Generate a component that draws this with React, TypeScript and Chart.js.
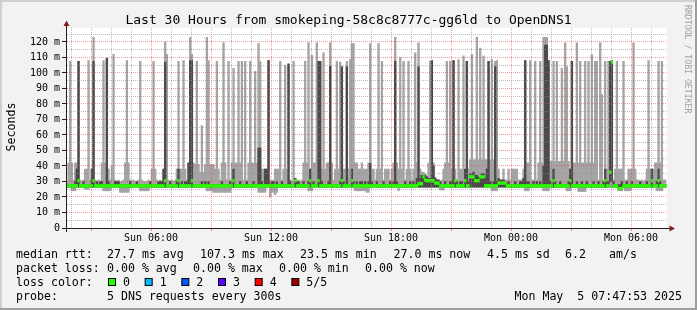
import React, { useEffect, useRef } from 'react';
import { Chart, registerables } from 'chart.js';

Chart.register(...registerables);

// ---- time axis (hours since Sun 00:00) ----
const graphStartHour = 1 + 47 / 60 + 53 / 3600; // Sun 01:47:53
const graphEndHour = graphStartHour + 30; // Mon 07:47:53
const firstStepStartHour = 1.75; // RRD 300 s step grid
const stepHours = 5 / 60;

// ---- smoke data, one value per 300 s step (ms), 12 per row = 1 hour ----
// p5: highest of the 5 pings
const outerHigh = [
  30, 42, 107.5, 42, 31, 42, 42, 107.5, 31, 30, 31, 38,
  38, 108, 31, 38, 123, 31, 30, 31, 30, 42, 108, 42,
  109.5, 38, 31, 40, 112, 31, 30, 31, 30, 30, 31, 42,
  108, 42, 31, 30, 31, 30, 30, 31, 107.5, 31, 30, 30,
  30, 31, 30, 38, 107.5, 38, 31, 30, 31, 30, 38, 120,
  112, 31, 30, 31, 30, 31, 38, 107.5, 38, 38, 108, 38,
  31, 42, 123, 112, 42, 41, 107.5, 41, 36, 66, 36, 41,
  123, 108, 41, 41, 41, 38, 107.5, 38, 31, 42, 119.5, 42,
  31, 107.5, 31, 42, 103, 42, 42, 107.5, 42, 107.5, 31, 107.5,
  31, 42, 107.5, 42, 42, 101, 42, 119, 107.5, 38, 38, 38,
  38, 108, 31, 30, 31, 38, 38, 38, 107.5, 31, 38, 105,
  38, 105.8, 31, 30, 107.5, 32, 30, 31, 30, 31, 42, 107.5,
  42, 119.5, 38, 111.4, 42, 42, 119.5, 107.5, 107.5, 38, 113, 38,
  42, 42, 119.5, 42, 31, 38, 107.5, 38, 107, 104, 38, 38,
  107.5, 38, 108.6, 119, 119, 42, 42, 38, 38, 42, 38, 38,
  38, 42, 119, 38, 38, 31, 38, 119, 38, 107.5, 31, 38,
  38, 38, 31, 38, 42, 123, 42, 38, 110, 38, 107.5, 31,
  38, 107.5, 38, 31, 38, 113, 42, 119.5, 38, 36, 36, 35,
  33, 42, 107.5, 108, 42, 33, 31, 31, 30, 31, 38, 42,
  107.5, 42, 107.5, 38, 108, 38, 31, 108.6, 38, 38, 111, 38,
  107.5, 38, 44, 112, 44, 44, 123, 44, 116, 44, 111, 44,
  44, 107.5, 44, 108.6, 44, 107.5, 108, 38, 31, 31, 38, 31,
  31, 38, 31, 38, 38, 38, 38, 31, 31, 31, 38, 108,
  42, 42, 108, 31, 31, 107.5, 31, 42, 107.5, 42, 123, 123,
  123, 108, 43, 43, 107.5, 43, 107.5, 43, 43, 103, 43, 119.5,
  104, 43, 38, 107.5, 42, 42, 119.5, 42, 107.5, 42, 42, 107.5,
  42, 107.5, 42, 111.8, 42, 107.5, 107.5, 31, 119.5, 86, 31, 107.5,
  38, 107.5, 107.5, 108, 31, 38, 107.5, 38, 38, 38, 107.5, 31,
  31, 38, 38, 38, 119.5, 38, 31, 31, 30, 31, 30, 31,
  38, 108, 38, 38, 38, 42, 42, 107.5, 42, 107.5, 31, 31,
];

// p4: second highest ping
const innerHigh = [
  28, 28, 28, 28, 28, 30, 38, 107.5, 28, 28, 30, 28,
  28, 28, 28, 38, 107.5, 28, 30, 28, 30, 30, 28, 28,
  109.5, 30, 28, 28, 28, 30, 30, 30, 28, 28, 28, 28,
  28, 28, 30, 28, 28, 28, 30, 28, 28, 28, 28, 28,
  28, 28, 30, 28, 28, 28, 28, 30, 30, 30, 38, 107,
  28, 28, 30, 28, 28, 28, 30, 38, 28, 30, 28, 30,
  30, 42, 108, 108, 28, 28, 28, 28, 28, 30, 28, 30,
  28, 30, 28, 28, 28, 28, 28, 28, 28, 30, 28, 28,
  28, 28, 30, 28, 38, 28, 28, 28, 30, 28, 28, 28,
  30, 28, 28, 28, 30, 28, 28, 51.6, 51.6, 30, 28, 38,
  38, 108, 28, 30, 30, 28, 30, 28, 28, 30, 28, 28,
  28, 105.8, 30, 28, 28, 32, 30, 30, 28, 28, 30, 28,
  28, 30, 38, 28, 30, 28, 28, 107.5, 107.5, 30, 28, 28,
  28, 30, 104.3, 28, 28, 28, 28, 28, 30, 104, 30, 28,
  104, 28, 28, 38, 30, 28, 30, 28, 30, 30, 28, 30,
  28, 30, 41.7, 30, 28, 28, 30, 28, 28, 28, 30, 28,
  28, 28, 30, 28, 30, 107.5, 30, 28, 28, 28, 28, 30,
  28, 28, 30, 28, 30, 28, 32, 104, 32, 34, 34, 34,
  33, 32, 32, 108, 40, 32, 31, 31, 30, 28, 28, 30,
  28, 28, 30, 30, 108, 31, 30, 28, 30, 30, 28, 38,
  107.5, 30, 35, 35, 36, 34, 34, 33, 33, 35, 35, 32,
  38, 107.5, 30, 28, 30, 104, 30, 32, 31, 31, 31, 30,
  28, 30, 28, 28, 28, 30, 28, 28, 30, 30, 32, 108,
  30, 30, 28, 28, 30, 28, 30, 28, 30, 28, 40, 118,
  118, 108, 30, 28, 38, 30, 28, 28, 30, 28, 28, 28,
  28, 30, 38, 107.5, 28, 28, 30, 28, 28, 30, 28, 28,
  30, 28, 28, 28, 30, 28, 28, 30, 28, 28, 30, 38,
  30, 30, 107.5, 108, 30, 28, 28, 28, 28, 30, 28, 28,
  30, 28, 28, 30, 28, 28, 28, 28, 30, 28, 28, 28,
  30, 28, 28, 38, 28, 28, 30, 38, 30, 28, 28, 28,
];

// p3: median ping
const medianRtt = [
  27.2, 27.2, 27.2, 27.2, 27.2, 27.2, 27.2, 30.5, 27.2, 27.2, 27.2, 27.2,
  27.2, 27.2, 27.2, 27.2, 30.5, 27.2, 27.2, 27.2, 27.2, 27.2, 27.2, 27.2,
  27.2, 27.2, 27.2, 27.2, 27.2, 27.2, 27.2, 27.2, 27.2, 27.2, 27.2, 27.2,
  27.2, 27.2, 27.2, 27.2, 27.2, 27.2, 27.2, 27.2, 27.2, 27.2, 27.2, 27.2,
  27.2, 27.2, 27.2, 27.2, 27.2, 27.2, 27.2, 27.2, 27.2, 27.2, 27.2, 30.5,
  27.2, 27.2, 27.2, 27.2, 27.2, 27.2, 27.2, 30.5, 27.2, 27.2, 27.2, 27.2,
  27.2, 27.2, 27.2, 30.5, 27.2, 27.2, 27.2, 27.2, 27.2, 27.2, 27.2, 27.2,
  27.2, 27.2, 27.2, 27.2, 27.2, 27.2, 27.2, 27.2, 27.2, 27.2, 27.2, 27.2,
  27.2, 27.2, 27.2, 27.2, 30.5, 27.2, 27.2, 27.2, 27.2, 27.2, 27.2, 27.2,
  27.2, 27.2, 27.2, 27.2, 27.2, 27.2, 27.2, 27.2, 27.2, 27.2, 27.2, 27.2,
  27.2, 27.2, 27.2, 27.2, 27.2, 27.2, 27.2, 27.2, 27.2, 27.2, 27.2, 27.2,
  27.2, 27.2, 27.2, 27.2, 27.2, 30.5, 27.2, 27.2, 27.2, 27.2, 27.2, 27.2,
  27.2, 27.2, 30.5, 27.2, 27.2, 27.2, 27.2, 30.5, 27.2, 27.2, 27.2, 27.2,
  27.2, 27.2, 27.2, 27.2, 27.2, 27.2, 27.2, 27.2, 27.2, 30.5, 27.2, 27.2,
  27.2, 27.2, 27.2, 30.5, 27.2, 27.2, 27.2, 27.2, 27.2, 27.2, 27.2, 27.2,
  27.2, 27.2, 27.2, 27.2, 27.2, 27.2, 27.2, 27.2, 27.2, 27.2, 27.2, 27.2,
  27.2, 27.2, 27.2, 27.2, 27.2, 27.2, 27.2, 27.2, 27.2, 27.2, 27.2, 27.2,
  27.2, 27.2, 27.2, 27.2, 27.2, 27.2, 27.2, 28.5, 28.5, 28.5, 33, 31,
  30.5, 30.5, 30.5, 30.5, 30.5, 29, 29, 29, 27.2, 27.2, 27.2, 27.2,
  27.2, 27.2, 27.2, 27.2, 27.2, 30.5, 27.2, 27.2, 27.2, 27.2, 27.2, 30.5,
  27.2, 27.2, 33, 33, 33, 30.5, 30.5, 30.5, 33, 33, 33, 27.2,
  27.2, 27.2, 27.2, 27.2, 27.2, 27.2, 27.2, 29, 29, 29, 29, 29,
  27.2, 27.2, 27.2, 27.2, 27.2, 27.2, 27.2, 27.2, 27.2, 27.2, 27.2, 27.2,
  27.2, 27.2, 27.2, 27.2, 27.2, 27.2, 27.2, 27.2, 27.2, 27.2, 27.2, 27.2,
  27.2, 27.2, 27.2, 27.2, 30.5, 27.2, 27.2, 27.2, 27.2, 27.2, 27.2, 27.2,
  27.2, 27.2, 30.5, 27.2, 27.2, 27.2, 27.2, 27.2, 27.2, 27.2, 27.2, 27.2,
  27.2, 27.2, 27.2, 27.2, 27.2, 27.2, 27.2, 27.2, 27.2, 27.2, 27.2, 30.5,
  27.2, 27.2, 36, 107, 27.2, 27.2, 27.2, 25.5, 25.5, 25.5, 27.2, 27.2,
  27.2, 27.2, 27.2, 27.2, 27.2, 27.2, 27.2, 27.2, 27.2, 27.2, 27.2, 27.2,
  27.2, 27.2, 27.2, 30.5, 27.2, 27.2, 27.2, 30.5, 27.2, 27.2, 27.2, 27.2,
];

// p2: second lowest ping
const innerLow = [
  26.5, 26.5, 26.5, 26.5, 26.5, 26.5, 26.5, 26.5, 26.5, 26.5, 26.5, 26.5,
  26.5, 26.5, 26.5, 26.5, 26.5, 26.5, 26.5, 26.5, 26.5, 26.5, 26.5, 26.5,
  26.5, 26.5, 26.5, 26.5, 26.5, 26.5, 26.5, 26.5, 26.5, 26.5, 26.5, 26.5,
  26.5, 26.5, 26.5, 26.5, 26.5, 26.5, 26.5, 26.5, 26.5, 26.5, 26.5, 26.5,
  26.5, 26.5, 26.5, 26.5, 26.5, 26.5, 26.5, 26.5, 26.5, 26.5, 26.5, 26.5,
  26.5, 26.5, 26.5, 26.5, 26.5, 26.5, 26.5, 26.5, 26.5, 26.5, 26.5, 26.5,
  26.5, 26.5, 26.5, 26.5, 26.5, 26.5, 26.5, 26.5, 26.5, 26.5, 26.5, 26.5,
  26.5, 26.5, 26.5, 26.5, 26.5, 26.5, 26.5, 26.5, 26.5, 26.5, 26.5, 26.5,
  26.5, 26.5, 26.5, 26.5, 26.5, 26.5, 26.5, 26.5, 26.5, 26.5, 26.5, 26.5,
  26.5, 26.5, 26.5, 26.5, 26.5, 26.5, 26.5, 26.5, 26.5, 26.5, 26.5, 26.5,
  26.5, 26.5, 26.5, 26.5, 26.5, 26.5, 26.5, 26.5, 26.5, 26.5, 26.5, 26.5,
  26.5, 26.5, 26.5, 26.5, 26.5, 26.5, 26.5, 26.5, 26.5, 26.5, 26.5, 26.5,
  26.5, 26.5, 26.5, 26.5, 26.5, 26.5, 26.5, 26.5, 26.5, 26.5, 26.5, 26.5,
  26.5, 26.5, 26.5, 26.5, 26.5, 26.5, 26.5, 26.5, 26.5, 26.5, 26.5, 26.5,
  26.5, 26.5, 26.5, 26.5, 26.5, 26.5, 26.5, 26.5, 26.5, 26.5, 26.5, 26.5,
  26.5, 26.5, 26.5, 26.5, 26.5, 26.5, 26.5, 26.5, 26.5, 26.5, 26.5, 26.5,
  26.5, 26.5, 26.5, 26.5, 26.5, 26.5, 26.5, 26.5, 26.5, 26.5, 26.5, 26.5,
  26.5, 26.5, 26.5, 26.5, 26.5, 26.5, 26.5, 26.5, 26.5, 26.5, 26.5, 26.5,
  26.5, 26.5, 26.5, 26.5, 26.5, 26.5, 26.5, 26.5, 26.5, 26.5, 26.5, 26.5,
  26.5, 26.5, 26.5, 26.5, 26.5, 26.5, 26.5, 26.5, 26.5, 26.5, 26.5, 26.5,
  26.5, 26.5, 26.5, 26.5, 26.5, 26.5, 26.5, 26.5, 26.5, 26.5, 26.5, 26.5,
  26.5, 26.5, 26.5, 26.5, 26.5, 26.5, 26.5, 26.5, 26.5, 26.5, 26.5, 26.5,
  26.5, 26.5, 26.5, 26.5, 26.5, 26.5, 26.5, 26.5, 26.5, 26.5, 26.5, 26.5,
  26.5, 26.5, 26.5, 26.5, 26.5, 26.5, 26.5, 26.5, 26.5, 26.5, 26.5, 26.5,
  26.5, 26.5, 26.5, 26.5, 26.5, 26.5, 26.5, 26.5, 26.5, 26.5, 26.5, 26.5,
  26.5, 26.5, 26.5, 26.5, 26.5, 26.5, 26.5, 26.5, 26.5, 26.5, 26.5, 26.5,
  26.5, 26.5, 26.5, 26.5, 26.5, 26.5, 26.5, 26.5, 26.5, 26.5, 26.5, 26.5,
  26.5, 26.5, 30, 30, 26.5, 26.5, 26.5, 25, 25, 25, 26.5, 26.5,
  26.5, 26.5, 26.5, 26.5, 26.5, 26.5, 26.5, 26.5, 26.5, 26.5, 26.5, 26.5,
  26.5, 26.5, 26.5, 26.5, 26.5, 26.5, 26.5, 26.5, 26.5, 26.5, 26.5, 26.5,
];

// p1: lowest ping
const outerLow = [
  26, 26, 26, 24, 24, 24, 26, 26, 26, 26, 26, 25,
  25, 25, 26, 26, 26, 26, 26, 26, 26, 26, 24, 24,
  24, 24, 24, 26, 26, 26, 26, 26, 23, 23, 23, 23,
  23, 23, 26, 26, 26, 26, 26, 26, 24, 24, 24, 24,
  24, 24, 26, 26, 26, 26, 26, 26, 26, 26, 26, 26,
  26, 26, 26, 26, 26, 26, 26, 26, 26, 26, 26, 26,
  26, 26, 26, 26, 26, 26, 26, 26, 26, 26, 26, 26,
  24, 24, 24, 24, 23, 23, 23, 23, 23, 23, 23, 23,
  23, 23, 23, 26, 26, 26, 26, 26, 26, 26, 26, 26,
  26, 26, 26, 26, 26, 26, 26, 23, 23, 23, 23, 23,
  26, 26, 20, 23, 23, 21.5, 23, 26, 26, 26, 26, 26,
  26, 26, 26, 26, 26, 26, 26, 26, 26, 26, 26, 26,
  26, 24, 24, 24, 26, 26, 26, 26, 26, 26, 26, 26,
  26, 26, 26, 26, 26, 26, 26, 26, 26, 26, 26, 26,
  26, 26, 26, 26, 26, 24, 24, 24, 24, 24, 24, 24,
  23, 23, 26, 26, 26, 26, 26, 26, 26, 26, 26, 26,
  26, 26, 26, 26, 26, 26, 26, 24, 26, 26, 26, 26,
  26, 26, 26, 26, 26, 26, 26, 26, 26, 26, 26, 26,
  26, 26, 26, 26, 26, 26, 26, 26, 24.5, 24.5, 24.5, 26,
  26, 26, 26, 26, 26, 26, 26, 26, 26, 26, 26, 26,
  26, 26, 26, 26, 26, 26, 26, 26, 26, 26, 26, 26,
  26, 26, 26, 24, 24, 24, 24, 26, 26, 26, 26, 26,
  26, 26, 26, 26, 26, 26, 26, 26, 26, 26, 26, 24,
  24, 24, 26, 26, 26, 26, 26, 26, 26, 26, 24, 24,
  24, 24, 26, 26, 26, 26, 26, 26, 26, 26, 26, 26,
  24, 24, 24, 26, 26, 26, 26, 23.5, 23.5, 23.5, 23.5, 23.5,
  26, 26, 26, 26, 26, 26, 26, 26, 26, 26, 26, 26,
  26, 26, 26, 26, 26, 26, 26, 24, 24, 24, 26, 24,
  24, 24, 24, 26, 26, 26, 26, 26, 26, 26, 26, 26,
  26, 26, 26, 26, 26, 26, 24, 24, 24, 24, 26, 26,
];

// ---- axis ticks ----
const xGridHours = [2, 3, 4, 5, 6, 7, 8, 9, 10, 11, 12, 13, 14, 15, 16, 17, 18, 19, 20, 21, 22, 23, 24, 25, 26, 27, 28, 29, 30, 31];
const xLabelHours = [6, 12, 18, 24, 30];
const xLabelTexts = ['Sun 06:00', 'Sun 12:00', 'Sun 18:00', 'Mon 00:00', 'Mon 06:00'];
const yGridValues = [0, 5, 10, 15, 20, 25, 30, 35, 40, 45, 50, 55, 60, 65, 70, 75, 80, 85, 90, 95, 100, 105, 110, 115, 120, 125];
const yMax = 129;

// ---- texts ----
const titleText = 'Last 30 Hours from smokeping-58c8c8777c-gg6ld to OpenDNS1';
const yAxisTitle = 'Seconds';
const rttLabel = 'median rtt:';
const rttItems = ['27.7 ms avg', '107.3 ms max', '23.5 ms min', '27.0 ms now', '4.5 ms sd', '6.2', 'am/s'];
const lossLabel = 'packet loss:';
const lossItems = ['0.00 % avg', '0.00 % max', '0.00 % min', '0.00 % now'];
const lossColorLabel = 'loss color:';
const lossColorNames = ['0', '1', '2', '3', '4', '5/5'];
const lossColorValues = ['#26ff00', '#00b8ff', '#0059ff', '#5e00ff', '#ff0000', '#a10000'];
const probeLabel = 'probe:';
const probeText = '5 DNS requests every 300s';
const dateText = 'Mon May  5 07:47:53 2025';
const watermark = 'RRDTOOL / TOBI OETIKER';

const MONO = '"DejaVu Sans Mono", monospace';
const GRID = 'rgba(143,143,143,0.6)';
const MGRID = 'rgba(222,79,79,0.55)';
const AXIS = '#1f1f1f';
const ARROW = '#801f1f';
const medianHalfWidth = 0.85;

const decorPlugin = {
  id: 'smokeDecor',
  beforeDraw(chart: any) {
    const { ctx, chartArea: a, width, height } = chart;
    ctx.save();
    ctx.fillStyle = '#f2f2f2';
    ctx.fillRect(0, 0, width, height);
    ctx.fillStyle = '#cfcfcf';
    ctx.fillRect(0, 0, width, 2);
    ctx.fillRect(0, 0, 2, height);
    ctx.fillStyle = '#9e9e9e';
    ctx.fillRect(0, height - 2, width, 2);
    ctx.fillRect(width - 2, 0, 2, height);
    ctx.fillStyle = '#ffffff';
    ctx.fillRect(a.left, a.top, a.right - a.left, a.bottom - a.top);
    ctx.restore();
  },
  afterDraw(chart: any) {
    const { ctx, chartArea: a } = chart;
    ctx.save();
    // axes
    ctx.strokeStyle = AXIS;
    ctx.lineWidth = 1;
    ctx.beginPath();
    ctx.moveTo(a.left - 5, a.bottom + 0.5);
    ctx.lineTo(a.right + 5, a.bottom + 0.5);
    ctx.moveTo(a.left - 0.5, a.bottom + 4);
    ctx.lineTo(a.left - 0.5, a.top - 4);
    ctx.stroke();
    // arrows
    ctx.fillStyle = ARROW;
    ctx.beginPath();
    ctx.moveTo(a.left - 0.5, a.top - 7.5);
    ctx.lineTo(a.left - 3.5, a.top - 2);
    ctx.lineTo(a.left + 2.5, a.top - 2);
    ctx.closePath();
    ctx.fill();
    ctx.beginPath();
    ctx.moveTo(a.right + 8, a.bottom + 0.5);
    ctx.lineTo(a.right + 2.5, a.bottom - 2.5);
    ctx.lineTo(a.right + 2.5, a.bottom + 3.5);
    ctx.closePath();
    ctx.fill();

    // title
    ctx.fillStyle = '#000';
    ctx.font = `13px ${MONO}`;
    ctx.textAlign = 'center';
    ctx.textBaseline = 'alphabetic';
    ctx.fillText(titleText, 348.5, 24);

    // y axis title
    ctx.save();
    ctx.translate(15, 127);
    ctx.rotate(-Math.PI / 2);
    ctx.font = `11.6px ${MONO}`;
    ctx.textAlign = 'center';
    ctx.fillText(yAxisTitle, 0, 0);
    ctx.restore();

    // watermark
    ctx.save();
    ctx.translate(684.5, 5);
    ctx.rotate(Math.PI / 2);
    ctx.font = `8.2px ${MONO}`;
    ctx.fillStyle = '#a0a0a0';
    ctx.textAlign = 'left';
    ctx.fillText(watermark, 0, 0);
    ctx.restore();

    // legend
    ctx.font = `11.6px ${MONO}`;
    ctx.textAlign = 'left';
    ctx.fillStyle = '#000';
    const rows = [257.5, 271.6, 285.7, 299.8];
    ctx.fillText(rttLabel, 16, rows[0]);
    const rttX = [107, 200, 300, 393.5, 487, 565, 609];
    rttItems.forEach((t, i) => ctx.fillText(t, rttX[i], rows[0]));
    ctx.fillText(lossLabel, 16, rows[1]);
    const lossX = [107, 193, 279, 365];
    lossItems.forEach((t, i) => ctx.fillText(t, lossX[i], rows[1]));
    ctx.fillText(lossColorLabel, 16, rows[2]);
    lossColorNames.forEach((t, i) => {
      const bx = 108.5 + i * 36.67;
      ctx.fillStyle = lossColorValues[i];
      ctx.fillRect(bx, 278.5, 7, 7);
      ctx.strokeStyle = '#000';
      ctx.strokeRect(bx, 278.5, 7, 7);
      ctx.fillStyle = '#000';
      ctx.fillText(t, bx + 14.5, rows[2]);
    });
    ctx.fillText(probeLabel, 16, rows[3]);
    ctx.fillText(probeText, 107, rows[3]);
    ctx.textAlign = 'right';
    ctx.fillText(dateText, 682, rows[3]);
    ctx.restore();
  },
};

export default function App() {
  const canvasRef = useRef<HTMLCanvasElement | null>(null);

  useEffect(() => {
    if (!canvasRef.current) return;
    const stepCenters = outerHigh.map((_, i) => firstStepStartHour + (i + 0.5) * stepHours);
    const band = (lo: number[], hi: number[]) => lo.map((l, i) => ({ x: stepCenters[i], y: [l, hi[i]] }));
    const common = {
      borderWidth: 0,
      barPercentage: 1,
      categoryPercentage: 1,
      grouped: false,
    };
    const chart = new Chart(canvasRef.current, {
      type: 'bar',
      data: {
        datasets: [
          {
            label: 'median',
            data: medianRtt.map((m, i) => ({ x: stepCenters[i], y: [m - medianHalfWidth, m + medianHalfWidth] })),
            backgroundColor: '#26ff00',
            order: 0,
            ...common,
          },
          { label: 'inner smoke', data: band(innerLow, innerHigh), backgroundColor: '#4a4a4a', order: 1, ...common },
          { label: 'outer smoke', data: band(outerLow, outerHigh), backgroundColor: '#a4a4a4', order: 2, ...common },
        ] as any,
      },
      options: {
        responsive: false,
        animation: false,
        devicePixelRatio: 1,
        layout: { padding: { left: 0, top: 28, right: 30, bottom: 62 } },
        plugins: { legend: { display: false }, tooltip: { enabled: false }, title: { display: false } },
        scales: {
          x: {
            type: 'linear',
            min: graphStartHour,
            max: graphEndHour,
            offset: false,
            afterBuildTicks: (s: any) => {
              s.ticks = xGridHours.map((v) => ({ value: v }));
            },
            afterFit: (s: any) => {
              s.height = 20;
            },
            grid: {
              offset: false,
              z: 1,
              lineWidth: 1,
              drawTicks: true,
              tickLength: 3,
              color: (c: any) => (c.tick && c.tick.value % 3 === 0 ? MGRID : GRID),
              tickColor: (c: any) => (c.tick && c.tick.value % 3 === 0 ? MGRID : 'rgba(0,0,0,0)'),
            },
            border: { display: false, dash: [1, 1] },
            ticks: {
              autoSkip: false,
              maxRotation: 0,
              minRotation: 0,
              padding: 1,
              color: '#000',
              font: { family: MONO, size: 10 },
              callback: (v: any) => {
                const k = xLabelHours.indexOf(Number(v));
                return k >= 0 ? xLabelTexts[k] : '';
              },
            },
          },
          y: {
            type: 'linear',
            min: 0,
            max: yMax,
            afterBuildTicks: (s: any) => {
              s.ticks = yGridValues.map((v) => ({ value: v }));
            },
            afterFit: (s: any) => {
              s.width = 67;
            },
            grid: {
              z: 1,
              lineWidth: 1,
              drawTicks: true,
              tickLength: 5,
              color: (c: any) => (c.tick && c.tick.value % 10 === 0 ? MGRID : GRID),
              tickColor: (c: any) => (c.tick && c.tick.value % 10 === 0 ? AXIS : 'rgba(0,0,0,0)'),
            },
            border: { display: false, dash: [1, 1] },
            ticks: {
              autoSkip: false,
              padding: 2,
              color: '#000',
              font: { family: MONO, size: 10 },
              callback: (v: any) => {
                const n = Number(v);
                if (n % 10 !== 0) return '';
                return n === 0 ? '0' : `${n} m`;
              },
            },
          },
        },
      } as any,
      plugins: [decorPlugin],
    });
    return () => chart.destroy();
  }, []);

  return (
    <div style={{ position: 'fixed', left: 0, top: 0, width: 697, height: 310 }}>
      <canvas ref={canvasRef} width={697} height={310} style={{ display: 'block', width: 697, height: 310 }} />
    </div>
  );
}
